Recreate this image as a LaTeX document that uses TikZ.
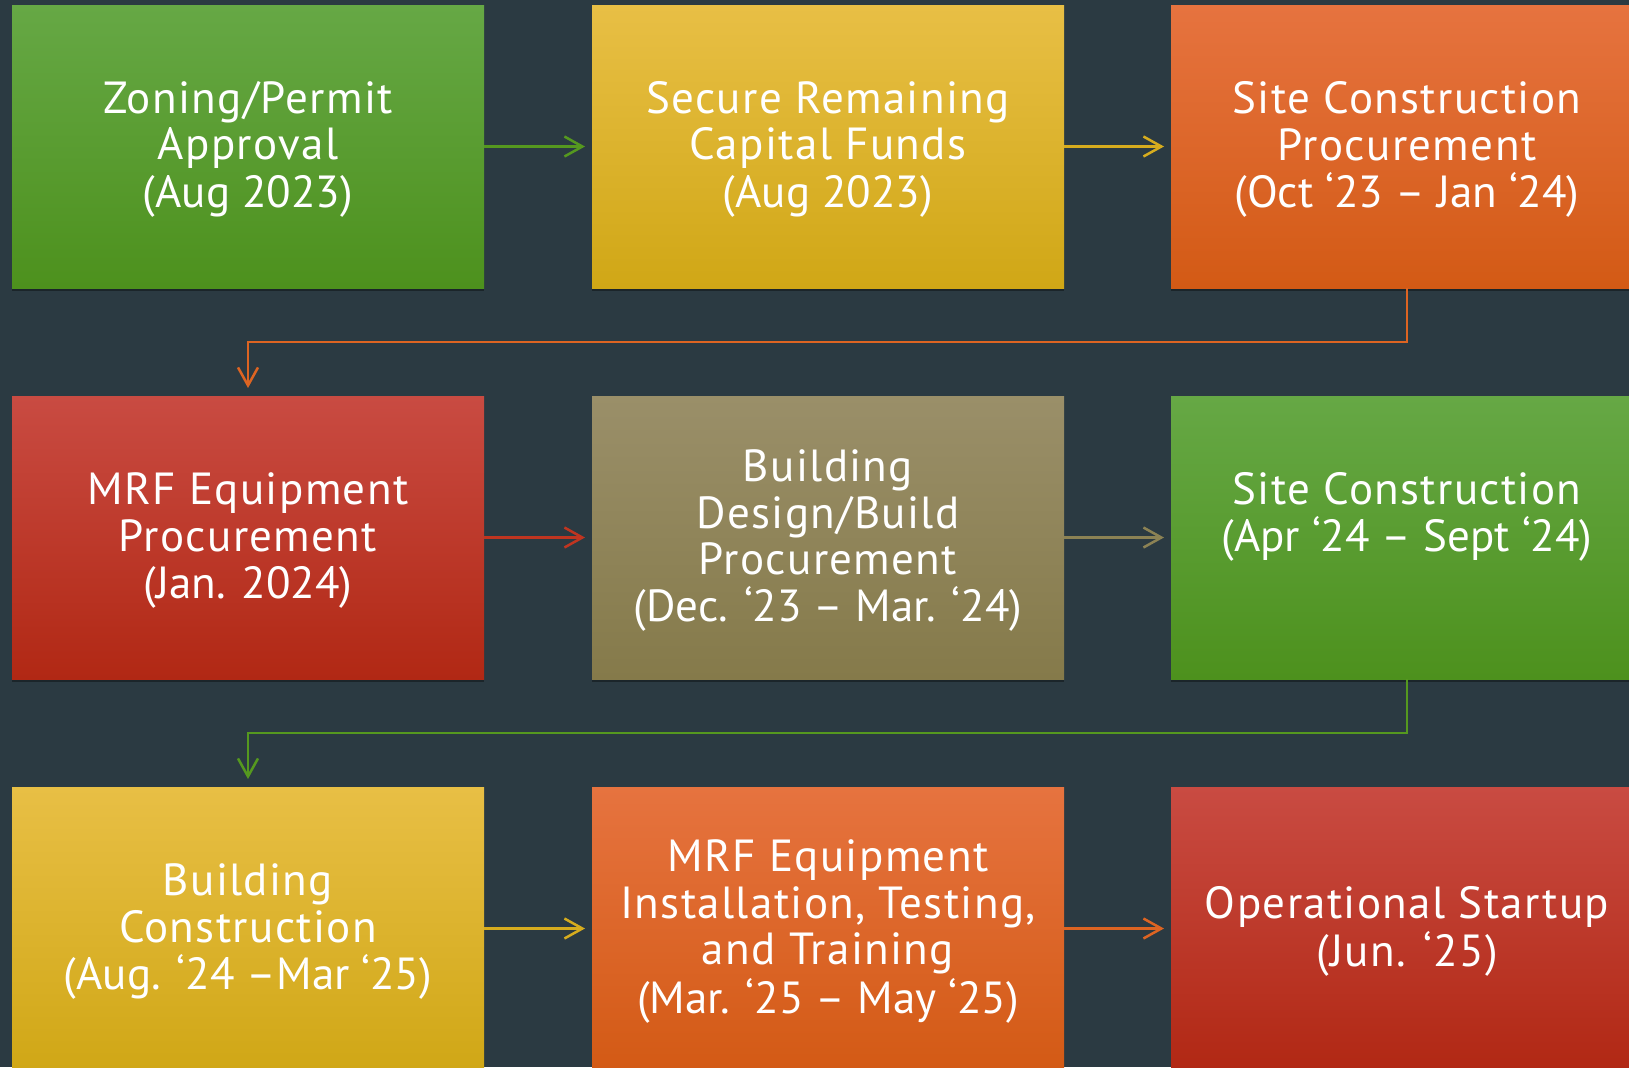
\documentclass[tikz,border=0pt]{standalone}
\usepackage{fontspec}
\setmainfont[LetterSpace=3]{PT Sans}
\newfontfamily\datefont{PT Sans}
\usetikzlibrary{arrows.meta,shadows}
\definecolor{bg}{HTML}{2B3A42}
\definecolor{gT}{HTML}{66A845}\definecolor{gB}{HTML}{4D911D}
\definecolor{yT}{HTML}{E8BF45}\definecolor{yB}{HTML}{D0A716}
\definecolor{oT}{HTML}{E6733F}\definecolor{oB}{HTML}{D35A15}
\definecolor{rT}{HTML}{C94B42}\definecolor{rB}{HTML}{B12814}
\definecolor{kT}{HTML}{9A8F69}\definecolor{kB}{HTML}{857A4A}
\definecolor{gA}{HTML}{55981F}\definecolor{yA}{HTML}{D6AC1E}
\definecolor{oA}{HTML}{DD6422}\definecolor{rA}{HTML}{C03520}
\definecolor{kA}{HTML}{8C8254}
\newcommand\linestrut{\rule[-8.5bp]{0pt}{46.5bp}}
\tikzset{
  stagebox/.style={draw=none, anchor=north west, minimum width=472bp, minimum height=283bp,
    inner sep=0pt, outer sep=0pt, text=white, align=center,
    font=\fontsize{45bp}{46.7bp}\selectfont,
    drop shadow={shadow xshift=0bp, shadow yshift=-3bp, opacity=0.35, fill=black}},
  gbox/.style={stagebox, top color=gT, bottom color=gB},
  ybox/.style={stagebox, top color=yT, bottom color=yB},
  obox/.style={stagebox, top color=oT, bottom color=oB},
  rbox/.style={stagebox, top color=rT, bottom color=rB},
  kbox/.style={stagebox, top color=kT, bottom color=kB},
  conn/.style={line width=2.5bp, -{Straight Barb[length=18bp, width=20bp, line width=2.5bp]}},
}
\begin{document}
\begin{tikzpicture}[x=1bp, y=-1bp]
\fill[bg] (0,0) rectangle (1629,1067);
\useasboundingbox (0,0) rectangle (1629,1067);
% row 1
\node[gbox] (b1) at (12,5) {\linestrut Zoning/Permit\\Approval\\\linestrut{\datefont(Aug 2023)}};
\node[ybox] (b2) at (592,5) {\linestrut Secure Remaining\\Capital Funds\\\linestrut{\datefont(Aug 2023)}};
\node[obox] (b3) at (1171,5) {\linestrut Site Construction\\Procurement\\\linestrut{\datefont(Oct ‘23 – Jan ‘24)}};
% row 2
\node[rbox] (b4) at (12,396) {\linestrut MRF Equipment\\Procurement\\\linestrut{\datefont(Jan. 2024)}};
\node[kbox] (b5) at (592,396) {\linestrut Building\\Design/Build\\Procurement\\\linestrut{\datefont(Dec. ‘23 – Mar. ‘24)}};
\node[gbox] (b6) at (1171,396) {\linestrut Site Construction\\{\datefont(Apr ‘24 – Sept ‘24)}\\\linestrut};
% row 3
\node[ybox] (b7) at (12,787) {\linestrut Building\\Construction\\\linestrut{\datefont(Aug. ‘24 –Mar ‘25)}};
\node[obox] (b8) at (592,787) {\linestrut MRF Equipment\\Installation, Testing,\\and Training\\\linestrut{\datefont(Mar. ‘25 – May ‘25)}};
\node[rbox] (b9) at (1171,787) {\linestrut Operational Startup\\\linestrut(Jun. ‘25)};
% connectors
\draw[conn, gA] (b1.east) -- ([xshift=-7bp]b2.west);
\draw[conn, yA] (b2.east) -- ([xshift=-7bp]b3.west);
\draw[conn, oA] (b3.south) -- (b3.south |- 0,342) -| ([yshift=8bp]b4.north);
\draw[conn, rA] (b4.east) -- ([xshift=-7bp]b5.west);
\draw[conn, kA] (b5.east) -- ([xshift=-7bp]b6.west);
\draw[conn, gA] (b6.south) -- (b6.south |- 0,733) -| ([yshift=8bp]b7.north);
\draw[conn, yA] (b7.east) -- ([xshift=-7bp]b8.west);
\draw[conn, oA] (b8.east) -- ([xshift=-7bp]b9.west);
\end{tikzpicture}
\end{document}
